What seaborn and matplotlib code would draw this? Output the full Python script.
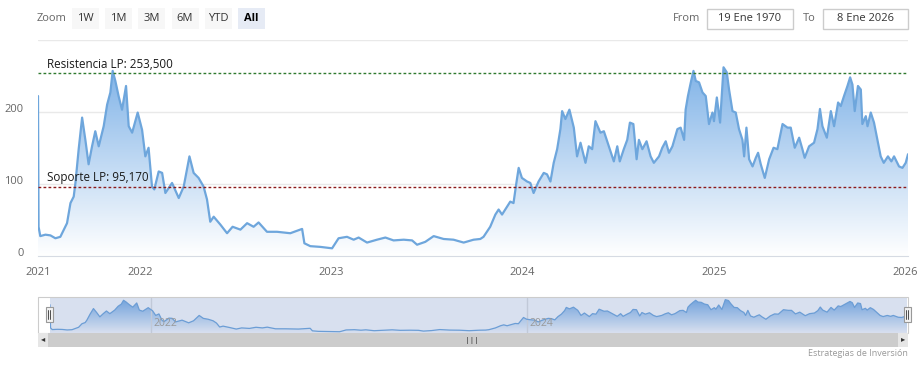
import numpy as np
import pandas as pd
import matplotlib
matplotlib.use('Agg')
import matplotlib.pyplot as plt
import matplotlib.dates as mdates
from matplotlib.colors import LinearSegmentedColormap
from matplotlib.patches import Rectangle
import matplotlib.transforms as mtransforms
import seaborn as sns

# price series (decimal years, price)
t_dec = [2021.464, 2021.467, 2021.476, 2021.503, 2021.529, 2021.555, 2021.581, 2021.616,
         2021.634, 2021.651, 2021.660, 2021.677, 2021.695, 2021.712, 2021.729, 2021.747,
         2021.764, 2021.782, 2021.808, 2021.826, 2021.843, 2021.855, 2021.869, 2021.886,
         2021.904, 2021.925, 2021.939, 2021.957, 2021.986, 2022.009, 2022.026, 2022.043,
         2022.061, 2022.073, 2022.096, 2022.114, 2022.131, 2022.166, 2022.201, 2022.227,
         2022.257, 2022.279, 2022.305, 2022.331, 2022.349, 2022.366, 2022.384, 2022.419,
         2022.454, 2022.483, 2022.524, 2022.559, 2022.593, 2022.619, 2022.663, 2022.716,
         2022.785, 2022.847, 2022.859, 2022.890, 2022.942, 2023.004, 2023.038, 2023.082,
         2023.117, 2023.143, 2023.187, 2023.239, 2023.283, 2023.326, 2023.379, 2023.423,
         2023.449, 2023.492, 2023.536, 2023.588, 2023.640, 2023.693, 2023.745, 2023.780,
         2023.797, 2023.832, 2023.859, 2023.876, 2023.894, 2023.920, 2023.937, 2023.954,
         2023.969, 2023.981, 2023.998, 2024.025, 2024.042, 2024.059, 2024.085, 2024.112,
         2024.129, 2024.147, 2024.164, 2024.182, 2024.199, 2024.208, 2024.225, 2024.246,
         2024.269, 2024.286, 2024.304, 2024.330, 2024.347, 2024.365, 2024.382, 2024.408,
         2024.426, 2024.452, 2024.478, 2024.496, 2024.509, 2024.530, 2024.548, 2024.562,
         2024.580, 2024.597, 2024.609, 2024.627, 2024.649, 2024.670, 2024.687, 2024.714,
         2024.731, 2024.749, 2024.766, 2024.784, 2024.810, 2024.827, 2024.845, 2024.853,
         2024.865, 2024.880, 2024.894, 2024.906, 2024.923, 2024.941, 2024.958, 2024.975,
         2024.993, 2025.001, 2025.016, 2025.033, 2025.051, 2025.068, 2025.080, 2025.098,
         2025.115, 2025.132, 2025.150, 2025.159, 2025.171, 2025.185, 2025.203, 2025.220,
         2025.232, 2025.246, 2025.267, 2025.290, 2025.313, 2025.333, 2025.360, 2025.386,
         2025.403, 2025.424, 2025.447, 2025.464, 2025.476, 2025.499, 2025.525, 2025.543,
         2025.556, 2025.569, 2025.592, 2025.613, 2025.630, 2025.651, 2025.665, 2025.682,
         2025.700, 2025.714, 2025.726, 2025.738, 2025.755, 2025.770, 2025.778, 2025.796,
         2025.805, 2025.822, 2025.839, 2025.857, 2025.874, 2025.890, 2025.912, 2025.930,
         2025.944, 2025.970, 2025.988, 2026.005, 2026.017]
price = [222, 40, 27, 29, 28, 24, 26, 45,
         73, 82, 101, 148, 192, 161, 127, 152,
         173, 152, 180, 210, 227, 257, 243, 222,
         203, 236, 180, 171, 199, 175, 138, 150,
         96, 92, 117, 115, 87, 101, 80, 96,
         138, 115, 108, 96, 78, 47, 54, 43,
         31, 40, 36, 45, 40, 46, 33, 33,
         31, 37, 17, 13, 12, 10, 24, 26,
         22, 25, 18, 22, 25, 21, 22, 21,
         15, 19, 27, 23, 22, 18, 22, 23,
         26, 40, 57, 64, 57, 68, 75, 73,
         101, 122, 108, 103, 101, 87, 103, 115,
         113, 103, 129, 148, 176, 201, 190, 203,
         178, 138, 157, 129, 152, 148, 187, 171,
         173, 152, 131, 152, 131, 148, 161, 185,
         183, 134, 161, 148, 159, 138, 129, 138,
         150, 159, 143, 152, 176, 178, 161, 203,
         222, 241, 257, 243, 241, 227, 222, 183,
         199, 187, 220, 185, 262, 255, 231, 201,
         199, 176, 161, 138, 178, 134, 124, 136,
         143, 127, 108, 134, 150, 148, 183, 178,
         178, 150, 164, 148, 136, 152, 157, 176,
         204, 180, 164, 201, 180, 213, 208, 222,
         236, 248, 238, 201, 236, 231, 183, 194,
         180, 199, 185, 161, 138, 129, 138, 131,
         138, 124, 122, 129, 141]

resist_level = 253.5
support_level = 95.17
resist_label = 'Resistencia LP: 253,500'
support_label = 'Soporte LP: 95,170'
year_labels = ['2021', '2022', '2023', '2024', '2025', '2026']
nav_years = ['2022', '2024']
zoom_buttons = ['1W', '1M', '3M', '6M', 'YTD', 'All']
date_from = '19 Ene 1970'
date_to = '8 Ene 2026'
credit = 'Estrategias de Inversión'


def to_date(t):
    y = int(np.floor(t))
    start = pd.Timestamp(year=y, month=1, day=1)
    end = pd.Timestamp(year=y + 1, month=1, day=1)
    return start + (end - start) * (t - y)


df = pd.DataFrame({'date': [to_date(t) for t in t_dec], 'price': price})

sns.set_style('white')
plt.rcParams['font.family'] = ['Open Sans', 'DejaVu Sans']

W, H = 922, 369
fig = plt.figure(figsize=(W / 100, H / 100), dpi=100)


def px_axes(x0, y0, x1, y1):
    return fig.add_axes([x0 / W, 1 - y1 / H, (x1 - x0) / W, (y1 - y0) / H])


def px_rect(x0, y0, x1, y1, **kw):
    fig.add_artist(Rectangle((x0 / W, 1 - y1 / H), (x1 - x0) / W, (y1 - y0) / H,
                             transform=fig.transFigure, **kw))


def px_text(x, y, s, **kw):
    fig.text(x / W, 1 - y / H, s, **kw)


line_color = '#6ea6dc'
fill_cmap = LinearSegmentedColormap.from_list('fill', ['#ffffff', '#6ea8e4'])


def gradient_area(ax, ymax, lw):
    xn = mdates.date2num(df['date'])
    poly = ax.fill_between(df['date'], df['price'], 0, color='none', lw=0)
    grad = np.linspace(0, 1, 256).reshape(-1, 1)
    im = ax.imshow(grad, extent=[xn.min(), xn.max(), 0, ymax], origin='lower',
                   aspect='auto', cmap=fill_cmap, zorder=1)
    im.set_clip_path(poly.get_paths()[0], transform=ax.transData)
    sns.lineplot(data=df, x='date', y='price', ax=ax, color=line_color,
                 linewidth=lw, zorder=3)


# ---- main chart
ax = px_axes(38, 40, 908, 255.5)
gradient_area(ax, 300, 1.6)
ax.set_xlim(df['date'].min(), df['date'].max())
ax.set_ylim(0, 300)
ax.set_xlabel('')
ax.set_ylabel('')
for s in ['top', 'left', 'right']:
    ax.spines[s].set_visible(False)
ax.spines['bottom'].set_color('#d6dbe3')
ax.set_yticks([0, 100, 200])
ax.set_yticklabels(['0', '100', '200'])
for yv in [100, 200, 300]:
    ax.axhline(yv, color='#e9e9e9', lw=1, zorder=0)
ax.tick_params(axis='y', length=0, pad=10.5, labelsize=8, labelcolor='#666666')
for lab in ax.get_yticklabels():
    lab.set_verticalalignment('baseline')
xt = [df['date'].min()] + [pd.Timestamp(f'{y}-01-01') for y in year_labels[1:]]
ax.set_xticks(xt)
ax.set_xticklabels(year_labels)
ax.tick_params(axis='x', length=5, width=1, color='#d6dbe3', pad=3.5,
               labelsize=8, labelcolor='#666666')

ax.axhline(resist_level, color='#2f7a2f', lw=1, ls=(0, (2, 1.6)), zorder=4)
ax.axhline(support_level, color='#8e1b1b', lw=1, ls=(0, (2, 1.6)), zorder=4)
lab_tr = mtransforms.blended_transform_factory(ax.transAxes, ax.transData)
ax.text(0.01, resist_level + 4, resist_label, transform=lab_tr, fontsize=8.4,
        color='#1a1a1a', va='bottom', ha='left', zorder=5)
ax.text(0.01, support_level + 4, support_label, transform=lab_tr, fontsize=8.4,
        color='#1a1a1a', va='bottom', ha='left', zorder=5)

# ---- toolbar
px_text(37, 18.5, 'Zoom', fontsize=8, color='#666666', va='center')
bx = 72
for b in zoom_buttons:
    sel = b == 'All'
    px_rect(bx, 8, bx + 27, 28.5, facecolor='#e6ebf5' if sel else '#f7f7f7',
            edgecolor='none')
    px_text(bx + 13.5, 18.5, b, fontsize=8, color='#000000' if sel else '#333333',
            fontweight='bold' if sel else 'normal', ha='center', va='center')
    bx += 33.2
px_text(687, 18.5, 'From', fontsize=8, color='#666666', ha='center', va='center')
px_rect(707, 8.5, 793, 28.5, facecolor='white', edgecolor='#cccccc', lw=1)
px_text(750, 18.5, date_from, fontsize=8, color='#333333', ha='center', va='center')
px_text(809, 18.5, 'To', fontsize=8, color='#666666', ha='center', va='center')
px_rect(823, 8.5, 908, 28.5, facecolor='white', edgecolor='#cccccc', lw=1)
px_text(865.5, 18.5, date_to, fontsize=8, color='#333333', ha='center', va='center')

# ---- navigator
px_rect(38, 297, 908, 333, facecolor='white', edgecolor='#cccccc', lw=0.8, zorder=-1)
nav = px_axes(50, 298, 907, 333)
nav.patch.set_alpha(0)
gradient_area(nav, 275, 0.9)
nav.set_xlim(df['date'].min(), df['date'].max())
nav.set_ylim(0, 275)
nav.set_xlabel('')
nav.set_ylabel('')
nav.set_xticks([])
nav.set_yticks([])
for s in nav.spines.values():
    s.set_visible(False)
for y in nav_years:
    d = pd.Timestamp(f'{y}-01-01')
    nav.axvline(d, color='#e0e0e0', lw=1, zorder=2)
    nav.annotate(y, (mdates.date2num(d), 0), xycoords=('data', 'axes fraction'),
                 xytext=(2, 3), textcoords='offset points', fontsize=7.5,
                 color='#999999', ha='left', va='bottom', zorder=6)
nav.add_patch(Rectangle((0, 0), 1, 1, transform=nav.transAxes,
                        facecolor=(102 / 255, 133 / 255, 194 / 255), alpha=0.25,
                        edgecolor='none', zorder=5))
for hx in [49, 907]:
    px_rect(hx - 3.5, 307, hx + 3.5, 322, facecolor='#f2f2f2', edgecolor='#999999',
            lw=0.8, zorder=3)
    for dx in [-1, 1]:
        fig.add_artist(plt.Line2D([(hx + dx) / W, (hx + dx) / W],
                                  [1 - 310 / H, 1 - 319 / H],
                                  color='#333333', lw=0.6, zorder=4))

# ---- scrollbar
px_rect(38, 333, 908, 347, facecolor='#f2f2f2', edgecolor='none')
px_rect(48, 333, 898, 347, facecolor='#cccccc', edgecolor='none')
px_rect(38, 333, 48, 347, facecolor='#e6e6e6', edgecolor='none')
px_rect(898, 333, 908, 347, facecolor='#e6e6e6', edgecolor='none')
px_text(43, 340, '◂', fontsize=6, color='#333333', ha='center', va='center')
px_text(903, 340, '▸', fontsize=6, color='#333333', ha='center', va='center')
px_text(472, 340, '|||', fontsize=6, color='#333333', ha='center', va='center')

px_text(908, 353, credit, fontsize=6.5, color='#999999', ha='right', va='center')

fig.savefig('out.png', dpi=100)
